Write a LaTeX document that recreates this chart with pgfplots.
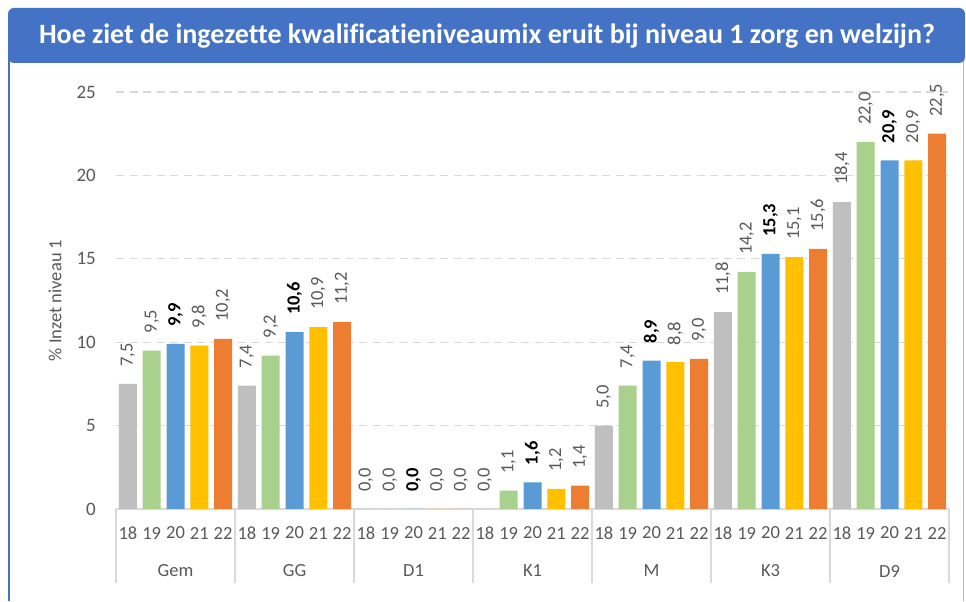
\documentclass[border=0pt]{standalone}
\usepackage{pgfplots}
\pgfplotsset{compat=1.18}
\usepackage{fontspec}
\setmainfont{Carlito}[Ligatures=NoCommon]
\definecolor{cgray}{HTML}{BFBFBF}
\definecolor{cgreen}{HTML}{A9D18E}
\definecolor{cblue}{HTML}{5B9BD5}
\definecolor{cyellow}{HTML}{FFC000}
\definecolor{corange}{HTML}{ED7D31}
\definecolor{titleblue}{HTML}{4472C4}
\definecolor{txt}{HTML}{595959}
\definecolor{gridc}{HTML}{D9D9D9}
\begin{document}
\begin{tikzpicture}[x=1pt,y=1pt]
\fill[white] (0,0) rectangle (966,601);
\draw[titleblue, line width=2pt] (9,0) -- (9,560);
\draw[gridc!70!titleblue, line width=1pt] (963,0) -- (963,560);
\fill[titleblue, rounded corners=6pt] (8,538) rectangle (965,593);
\node[white, font=\bfseries\fontsize{28}{30}\selectfont] at (487,565) {Hoe ziet de ingezette kwalificatieniveaumix eruit bij niveau 1 zorg en welzijn?};
\begin{axis}[
  at={(116pt,92pt)}, anchor=south west,
  scale only axis, width=833pt, height=417pt,
  xmin=-0.5, xmax=34.5, ymin=0, ymax=25,
  axis line style={draw=none},
  major tick length=0pt,
  ytick={0,5,10,15,20,25},
  ymajorgrids,
  grid style={gridc, line width=1.2pt, dash pattern=on 8pt off 5.5pt},
  yticklabel style={font=\fontsize{19}{20}\selectfont, color=txt, inner sep=0pt, anchor=east, xshift=-20pt},
  /pgf/number format/assume math mode=true,
  xtick={0,...,34},
  xticklabels={18,19,20,21,22,18,19,20,21,22,18,19,20,21,22,18,19,20,21,22,18,19,20,21,22,18,19,20,21,22,18,19,20,21,22},
  xticklabel style={font=\fontsize{18.5}{20}\selectfont, color=txt, inner sep=0pt, anchor=center, yshift=-24pt},
  ylabel={\% Inzet niveau 1},
  every axis y label/.style={at={(axis description cs:0,0.5)}, xshift=-61pt, rotate=90, anchor=center, font=\fontsize{18.5}{20}\selectfont, color=txt},
  ybar, bar width=18pt, bar shift=0pt,
  clip=false,
  nodes near coords,
  nodes near coords style={/pgf/number format/.cd, use comma, fixed, fixed zerofill, precision=1, /tikz/.cd,
     font=\fontsize{18.5}{20}\selectfont, color=txt, inner sep=0pt, yshift=17pt, rotate=90, anchor=west},
]
\draw[gridc, line width=1.2pt] (axis cs:-0.5,0) -- (axis cs:34.5,0);
\addplot[fill=cgray, draw=none] coordinates {(0,7.5) (5,7.4) (10,0) (15,0) (20,5.0) (25,11.8) (30,18.4)};
\addplot[fill=cgreen, draw=none] coordinates {(1,9.5) (6,9.2) (11,0) (16,1.1) (21,7.4) (26,14.2) (31,22.0)};
\addplot[fill=cblue, draw=none, nodes near coords style={color=black, font=\bfseries\fontsize{18.5}{20}\selectfont}] coordinates {(2,9.9) (7,10.6) (12,0) (17,1.6) (22,8.9) (27,15.3) (32,20.9)};
\addplot[fill=cyellow, draw=none] coordinates {(3,9.8) (8,10.9) (13,0) (18,1.2) (23,8.8) (28,15.1) (33,20.9)};
\addplot[fill=corange, draw=none] coordinates {(4,10.2) (9,11.2) (14,0) (19,1.4) (24,9.0) (29,15.6) (34,22.5)};
\draw[gridc, line width=1.2pt] (axis cs:-0.5,0) -- ++(0pt,-74pt);
\draw[gridc, line width=1.2pt] (axis cs:4.5,0) -- ++(0pt,-74pt);
\draw[gridc, line width=1.2pt] (axis cs:9.5,0) -- ++(0pt,-74pt);
\draw[gridc, line width=1.2pt] (axis cs:14.5,0) -- ++(0pt,-74pt);
\draw[gridc, line width=1.2pt] (axis cs:19.5,0) -- ++(0pt,-74pt);
\draw[gridc, line width=1.2pt] (axis cs:24.5,0) -- ++(0pt,-74pt);
\draw[gridc, line width=1.2pt] (axis cs:29.5,0) -- ++(0pt,-74pt);
\draw[gridc, line width=1.2pt] (axis cs:34.5,0) -- ++(0pt,-74pt);
\node[font=\fontsize{18.5}{20}\selectfont, color=txt, yshift=-62pt] at (axis cs:2,0) {Gem};
\node[font=\fontsize{18.5}{20}\selectfont, color=txt, yshift=-62pt] at (axis cs:7,0) {GG};
\node[font=\fontsize{18.5}{20}\selectfont, color=txt, yshift=-62pt] at (axis cs:12,0) {D1};
\node[font=\fontsize{18.5}{20}\selectfont, color=txt, yshift=-62pt] at (axis cs:17,0) {K1};
\node[font=\fontsize{18.5}{20}\selectfont, color=txt, yshift=-62pt] at (axis cs:22,0) {M};
\node[font=\fontsize{18.5}{20}\selectfont, color=txt, yshift=-62pt] at (axis cs:27,0) {K3};
\node[font=\fontsize{18.5}{20}\selectfont, color=txt, yshift=-62pt] at (axis cs:32,0) {D9};
\end{axis}
\end{tikzpicture}
\end{document}
